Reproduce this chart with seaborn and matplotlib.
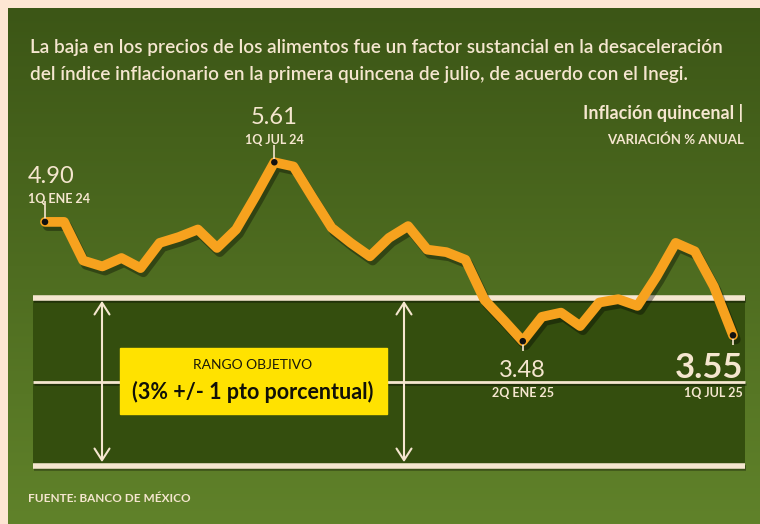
import numpy as np
import pandas as pd
import matplotlib
matplotlib.use("Agg")
import matplotlib.pyplot as plt
import matplotlib.patheffects as pe
from matplotlib.transforms import blended_transform_factory
import seaborn as sns

# ---------------- data ----------------
periods = ["1Q ENE 24", "2Q ENE 24", "1Q FEB 24", "2Q FEB 24", "1Q MAR 24", "2Q MAR 24",
           "1Q ABR 24", "2Q ABR 24", "1Q MAY 24", "2Q MAY 24", "1Q JUN 24", "2Q JUN 24",
           "1Q JUL 24", "2Q JUL 24", "1Q AGO 24", "2Q AGO 24", "1Q SEP 24", "2Q SEP 24",
           "1Q OCT 24", "2Q OCT 24", "1Q NOV 24", "2Q NOV 24", "1Q DIC 24", "2Q DIC 24",
           "1Q ENE 25", "2Q ENE 25", "1Q FEB 25", "2Q FEB 25", "1Q MAR 25", "2Q MAR 25",
           "1Q ABR 25", "2Q ABR 25", "1Q MAY 25", "2Q MAY 25", "1Q JUN 25", "2Q JUN 25",
           "1Q JUL 25"]
inflation = [4.90, 4.90, 4.44, 4.37, 4.47, 4.35, 4.65, 4.72, 4.81, 4.59, 4.81, 5.20,
             5.61, 5.56, 5.19, 4.83, 4.65, 4.49, 4.71, 4.85, 4.57, 4.54, 4.45, 3.97,
             3.73, 3.48, 3.77, 3.82, 3.66, 3.94, 3.98, 3.90, 4.25, 4.65, 4.55, 4.13,
             3.55]
highlight_idx = [0, 12, 25, 36]
target_low, target_mid, target_high = 2, 3, 4

title_lines = ["La baja en los precios de los alimentos fue un factor sustancial en la desaceleración",
               "del índice inflacionario en la primera quincena de julio, de acuerdo con el Inegi."]
subtitle1 = "Inflación quincenal |"
subtitle2 = "VARIACIÓN % ANUAL"
band_label1 = "RANGO OBJETIVO"
band_label2 = "(3% +/- 1 pto porcentual)"
source = "FUENTE: BANCO DE MÉXICO"

df = pd.DataFrame({"idx": np.arange(len(inflation)), "periodo": periods, "valor": inflation})

# ---------------- style ----------------
W, H = 760, 524
PEACH = "#fde6d3"
CREAM = "#f5e6cf"
ORANGE = "#f7a21e"
BAND = "#344e0e"
FONT = ["Lato", "DejaVu Sans"]

sns.set_theme(style="white")
plt.rcParams["font.family"] = FONT

fig = plt.figure(figsize=(W / 100, H / 100), dpi=100, facecolor=PEACH)

def fx(x):
    return x / W

def fy(y):
    return 1 - y / H

# gradient green panel
bg = fig.add_axes([0, 0, 1, 1])
bg.set_xlim(0, W)
bg.set_ylim(H, 0)
bg.axis("off")
top = np.array([0x3c, 0x56, 0x16]) / 255
bot = np.array([0x60, 0x82, 0x2a]) / 255
t = np.linspace(0, 1, 256)[:, None]
grad = (top[None, :] * (1 - t) + bot[None, :] * t)[:, None, :]
bg.imshow(grad, extent=[8, W, H, 8], aspect="auto", interpolation="bilinear", zorder=0)

# main axes (whole figure)
ax = fig.add_axes([0, 0, 1, 1])
ax.patch.set_alpha(0)
px_per_x = (733 - 45) / (len(inflation) - 1)
ax.set_xlim(-45 / px_per_x, (len(inflation) - 1) + (W - 733) / px_per_x)
s = 84.0
y3 = 381.5
ax.set_ylim(target_mid - (H - y3) / s, target_mid + y3 / s)
ax.axis("off")

bt = blended_transform_factory(fig.transFigure, ax.transData)
x0b, x1b = fx(33), fx(745)

# target band
ax.fill_between([x0b, x1b], target_low, target_high, color=BAND, transform=bt, zorder=1, lw=0)
shadow = [pe.SimpleLineShadow(offset=(1, -1.5), shadow_color="black", alpha=0.35), pe.Normal()]
for yv, lw in [(target_high, 4.0), (target_low, 4.0), (target_mid, 2.0)]:
    ax.plot([x0b, x1b], [yv, yv], color=CREAM, lw=lw, transform=bt, zorder=2,
            solid_capstyle="butt", path_effects=shadow)

# double arrows
for xa in [102, 404]:
    ax.annotate("", xy=(fx(xa), target_low + 0.04), xytext=(fx(xa), target_high - 0.04),
                xycoords=bt, textcoords=bt,
                arrowprops=dict(arrowstyle="<->,head_length=0.7,head_width=0.45", color=CREAM,
                                lw=1.5, shrinkA=0, shrinkB=0), zorder=3)

# yellow box
fig.patches.append(plt.Rectangle((fx(120), fy(414)), fx(387) - fx(120), fy(348) - fy(414),
                                 transform=fig.transFigure, color="#ffe200", zorder=4))
fig.text(fx(253), fy(369), band_label1, ha="center", va="baseline", fontsize=10,
         color="#1a1a0a", zorder=5)
fig.text(fx(253), fy(399), band_label2, ha="center", va="baseline", fontsize=15.5,
         fontweight="bold", color="#111108", zorder=5)

# line
sns.lineplot(data=df, x="idx", y="valor", ax=ax, color=ORANGE, linewidth=7, zorder=6,
             path_effects=[pe.SimpleLineShadow(offset=(2, -3), shadow_color="black", alpha=0.35),
                           pe.Normal()])
ax.set_xlabel("")
ax.set_ylabel("")

hl = df.iloc[highlight_idx]
sns.scatterplot(data=hl, x="idx", y="valor", ax=ax, color="#111111", s=22,
                edgecolor="none", zorder=8)

# leader ticks
for i, d0, d1 in [(0, 0.0, 0.25), (12, 0.0, 0.2)]:
    ax.vlines(i, inflation[i] + d0, inflation[i] + d1, color=CREAM, lw=1.2, zorder=7)
for i in [25, 36]:
    ax.vlines(i, inflation[i] - 0.12, inflation[i], color=CREAM, lw=1.2, zorder=7)

# value labels
def lab(i, dx_px, val_y, per_y, ha, vsize, psize, vweight="normal"):
    xpix = 45 + i * px_per_x + dx_px
    fig.text(fx(xpix), fy(val_y), f"{inflation[i]:.2f}", ha=ha, va="baseline",
             fontsize=vsize, color=CREAM, fontweight=vweight, zorder=9)
    fig.text(fx(xpix), fy(per_y), periods[i], ha=ha, va="baseline",
             fontsize=psize, color=CREAM, fontweight="bold", zorder=9)

lab(0, -17, 183, 203, "left", 17, 9)
lab(12, 0, 124, 144, "center", 17, 9)
lab(25, 0, 377, 397, "center", 17, 9)
lab(36, 10, 378, 397, "right", 25, 9, "bold")

# titles
for k, line in enumerate(title_lines):
    fig.text(fx(30), fy(53 + 27 * k), line, ha="left", va="baseline", fontsize=13.7,
             color=CREAM, fontweight="semibold")
fig.text(fx(743), fy(119), subtitle1, ha="right", va="baseline", fontsize=13,
         fontweight="bold", color=CREAM)
fig.text(fx(744), fy(144), subtitle2, ha="right", va="baseline", fontsize=9.5,
         fontweight="bold", color=CREAM)
fig.text(fx(28), fy(502), source, ha="left", va="baseline", fontsize=8.5,
         fontweight="bold", color=CREAM)

fig.savefig("out.png", dpi=100, facecolor=PEACH)
